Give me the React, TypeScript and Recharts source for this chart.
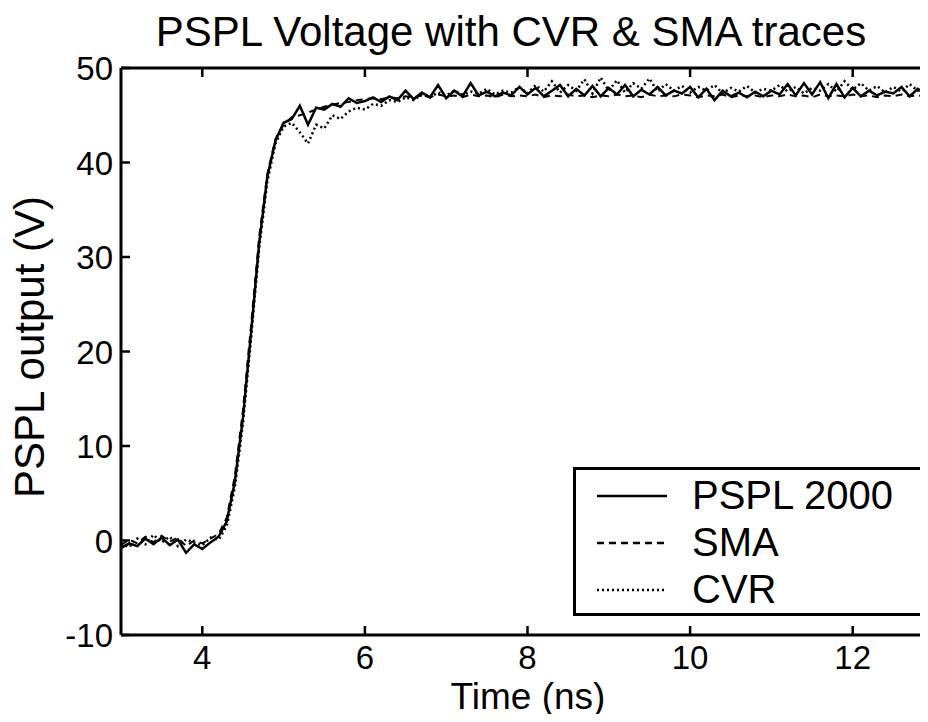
import { LineChart, Line, XAxis, YAxis, Legend } from 'recharts';

const time = [
  3.0, 3.1, 3.2, 3.3, 3.4, 3.5, 3.6, 3.7, 3.8, 3.9,
  4.0, 4.1, 4.2, 4.3, 4.4, 4.5, 4.6, 4.7, 4.8, 4.9,
  5.0, 5.1, 5.2, 5.3, 5.4, 5.5, 5.6, 5.7, 5.8, 5.9,
  6.0, 6.1, 6.2, 6.3, 6.4, 6.5, 6.6, 6.7, 6.8, 6.9,
  7.0, 7.1, 7.2, 7.3, 7.4, 7.5, 7.6, 7.7, 7.8, 7.9,
  8.0, 8.1, 8.2, 8.3, 8.4, 8.5, 8.6, 8.7, 8.8, 8.9,
  9.0, 9.1, 9.2, 9.3, 9.4, 9.5, 9.6, 9.7, 9.8, 9.9,
  10.0, 10.1, 10.2, 10.3, 10.4, 10.5, 10.6, 10.7, 10.8, 10.9,
  11.0, 11.1, 11.2, 11.3, 11.4, 11.5, 11.6, 11.7, 11.8, 11.9,
  12.0, 12.1, 12.2, 12.3, 12.4, 12.5, 12.6, 12.7, 12.8, 12.9,
  13.0,
];

const pspl = [
  -0.8, -0.3, -0.6, 0.2, -0.4, 0.3, -0.5, 0.1, -1.3, -0.4,
  -0.9, -0.2, 0.4, 2.0, 6.2, 13.0, 22.0, 31.5, 38.5, 42.3,
  44.2, 44.6, 46.0, 44.0, 45.8, 45.6, 46.2, 45.9, 46.8, 46.3,
  46.5, 46.9, 46.4, 47.0, 46.6, 47.6, 46.7, 47.4, 46.9, 48.2,
  46.8, 47.6, 47.0, 48.4, 47.1, 47.5, 47.0, 47.4, 47.1, 48.0,
  47.2, 47.9, 47.0, 47.6, 48.2, 47.0, 47.8, 47.1, 48.1, 47.0,
  47.9, 47.2, 48.2, 47.0, 47.7, 47.2, 48.0, 47.1, 47.6, 47.3,
  48.0, 46.9, 47.8, 46.6, 47.6, 47.0, 47.4, 46.9, 47.5, 47.0,
  47.6, 47.2, 48.3, 47.1, 48.4, 47.2, 48.5, 46.8, 48.3, 46.9,
  47.9, 47.0, 47.6, 47.1, 47.5, 47.3, 48.0, 47.0, 47.8, 47.2,
  47.5,
];

const sma = [
  -0.5, 0.1, -0.3, 0.4, -0.2, 0.5, -0.1, 0.3, -0.6, 0.0,
  -0.3, 0.2, 0.7, 2.4, 6.8, 13.8, 22.8, 32.2, 38.8, 42.5,
  44.0, 44.8, 45.0, 45.3, 45.6, 45.9, 46.1, 46.3, 46.4, 46.6,
  46.7, 46.8, 46.7, 46.9, 46.8, 47.0, 46.9, 47.1, 46.9, 47.2,
  47.0, 47.1, 46.9, 47.2, 47.0, 47.1, 46.9, 47.2, 47.0, 47.1,
  47.0, 47.2, 46.9, 47.1, 47.0, 47.2, 47.0, 47.1, 46.9, 47.1,
  47.0, 47.2, 47.0, 47.1, 46.9, 47.2, 47.0, 47.1, 47.0, 47.2,
  47.1, 46.9, 47.1, 47.0, 47.2, 46.9, 47.1, 47.0, 47.1, 46.9,
  47.1, 47.0, 47.2, 47.0, 47.1, 46.9, 47.2, 47.0, 47.1, 47.0,
  47.2, 47.0, 47.1, 46.9, 47.1, 47.0, 47.2, 47.0, 47.1, 47.0,
  47.1,
];

const cvr = [
  -0.3, -0.7, 0.2, -0.4, 0.6, -0.2, 0.4, -0.6, 0.1, -0.2,
  -0.5, 0.3, 0.1, 1.5, 5.6, 12.4, 21.4, 31.0, 38.0, 42.0,
  43.8, 44.2, 43.2, 42.0, 44.0, 43.6, 45.0, 44.6, 45.4, 45.8,
  45.6, 46.2, 46.0, 46.6, 46.4, 46.9, 46.6, 47.2, 46.9, 47.4,
  47.1, 47.6, 47.2, 47.5, 47.3, 47.8, 47.2, 47.6, 47.4, 48.0,
  47.3, 48.2, 47.5, 48.6, 47.4, 48.2, 47.6, 48.8, 47.3, 49.0,
  47.6, 48.7, 47.4, 48.4, 47.8, 48.9, 47.5, 48.3, 47.6, 48.1,
  47.4, 48.0, 47.6, 48.2, 47.3, 47.9, 47.5, 48.1, 47.4, 47.8,
  47.6, 48.2, 47.5, 48.0, 47.3, 47.9, 47.6, 48.3, 47.5, 48.6,
  47.7, 48.4, 47.6, 48.1, 47.4, 48.0, 47.5, 48.3, 47.6, 48.2,
  47.8,
];

const xTicks = [4, 6, 8, 10, 12];
const yTicks = [-10, 0, 10, 20, 30, 40, 50];

const seriesNames = ['PSPL 2000', 'SMA', 'CVR'];
const dashes = ['', '7 5', '2 3'];

const data = time.map((t, i) => ({ t, pspl: pspl[i], sma: sma[i], cvr: cvr[i] }));

const FONT = '"Liberation Sans", Arial, Helvetica, sans-serif';

const BottomTick = (props: any) => {
  const { x, y, payload } = props;
  return (
    <g>
      <line x1={x} y1={y} x2={x} y2={y - 9} stroke="#000" strokeWidth={2.5} />
      <text x={x} y={y + 34} textAnchor="middle" fontSize={33} fontFamily={FONT} fill="#000">
        {payload.value}
      </text>
    </g>
  );
};

const TopTick = (props: any) => {
  const { x, y } = props;
  return <line x1={x} y1={y} x2={x} y2={y + 9} stroke="#000" strokeWidth={2.5} />;
};

const LeftTick = (props: any) => {
  const { x, y, payload } = props;
  return (
    <g>
      <line x1={x} y1={y} x2={x + 9} y2={y} stroke="#000" strokeWidth={2.5} />
      <text x={x - 8} y={y + 12} textAnchor="end" fontSize={33} fontFamily={FONT} fill="#000">
        {payload.value}
      </text>
    </g>
  );
};

const RightTick = (props: any) => {
  const { x, y } = props;
  return <line x1={x} y1={y} x2={x - 9} y2={y} stroke="#000" strokeWidth={2.5} />;
};

const LegendBox = () => (
  <div
    style={{
      width: 345,
      height: 143,
      border: '3px solid #000',
      background: '#fff',
      boxSizing: 'content-box',
      position: 'relative',
    }}
  >
    {seriesNames.map((name, i) => (
      <div
        key={name}
        style={{ position: 'absolute', left: 0, top: 2 + i * 47, height: 47, display: 'flex', alignItems: 'center' }}
      >
        <svg width={116} height={20} style={{ display: 'block' }}>
          <line x1={21} y1={10} x2={91} y2={10} stroke="#000" strokeWidth={2.5} strokeDasharray={dashes[i]} />
        </svg>
        <span style={{ fontFamily: FONT, fontSize: 40, color: '#000', lineHeight: '47px' }}>{name}</span>
      </div>
    ))}
  </div>
);

export default function App() {
  return (
    <div style={{ margin: -8, width: 928, height: 722, overflow: 'hidden', position: 'relative', background: '#fff' }}>
      <LineChart width={950} height={722} data={data} margin={{ top: 58, right: 6, bottom: 57, left: 61 }}>
        <XAxis
          dataKey="t"
          type="number"
          domain={[3, 13]}
          ticks={xTicks}
          xAxisId="b"
          height={30}
          tickSize={0}
          tickMargin={0}
          tickLine={false}
          tick={BottomTick}
          axisLine={{ stroke: '#000', strokeWidth: 3 }}
          allowDataOverflow
        />
        <XAxis
          dataKey="t"
          type="number"
          domain={[3, 13]}
          ticks={xTicks}
          xAxisId="top"
          orientation="top"
          height={10}
          tickSize={0}
          tickMargin={0}
          tickLine={false}
          tick={TopTick}
          axisLine={{ stroke: '#000', strokeWidth: 3 }}
        />
        <YAxis
          yAxisId="l"
          type="number"
          domain={[-10, 50]}
          ticks={yTicks}
          width={60}
          tickSize={0}
          tickMargin={0}
          tickLine={false}
          tick={LeftTick}
          axisLine={{ stroke: '#000', strokeWidth: 3 }}
        />
        <YAxis
          yAxisId="r"
          orientation="right"
          type="number"
          domain={[-10, 50]}
          ticks={yTicks}
          width={10}
          tickSize={0}
          tickMargin={0}
          tickLine={false}
          tick={RightTick}
          axisLine={{ stroke: '#000', strokeWidth: 3 }}
        />
        <Line xAxisId="b" yAxisId="l" dataKey="pspl" name="PSPL 2000" stroke="#000" strokeWidth={2.5} dot={false} isAnimationActive={false} />
        <Line xAxisId="b" yAxisId="l" dataKey="sma" name="SMA" stroke="#000" strokeWidth={2} strokeDasharray="7 5" dot={false} isAnimationActive={false} />
        <Line xAxisId="b" yAxisId="l" dataKey="cvr" name="CVR" stroke="#000" strokeWidth={2.5} strokeDasharray="2 3" dot={false} isAnimationActive={false} />
        <Legend
          layout="vertical"
          align="center"
          verticalAlign="middle"
          content={LegendBox}
          wrapperStyle={{ position: 'absolute', left: 573, top: 467, width: 351, height: 149 }}
        />
      </LineChart>
      <svg width={928} height={722} style={{ position: 'absolute', left: 0, top: 0, pointerEvents: 'none' }}>
        <text x={511} y={46} textAnchor="middle" fontSize={42} fontFamily={FONT} fill="#000">
          PSPL Voltage with CVR &amp; SMA traces
        </text>
        <text x={528} y={709} textAnchor="middle" fontSize={37} fontFamily={FONT} fill="#000">
          Time (ns)
        </text>
        <text x={44} y={347} textAnchor="middle" fontSize={42} fontFamily={FONT} fill="#000" transform="rotate(-90, 44, 347)">
          PSPL output (V)
        </text>
      </svg>
    </div>
  );
}
